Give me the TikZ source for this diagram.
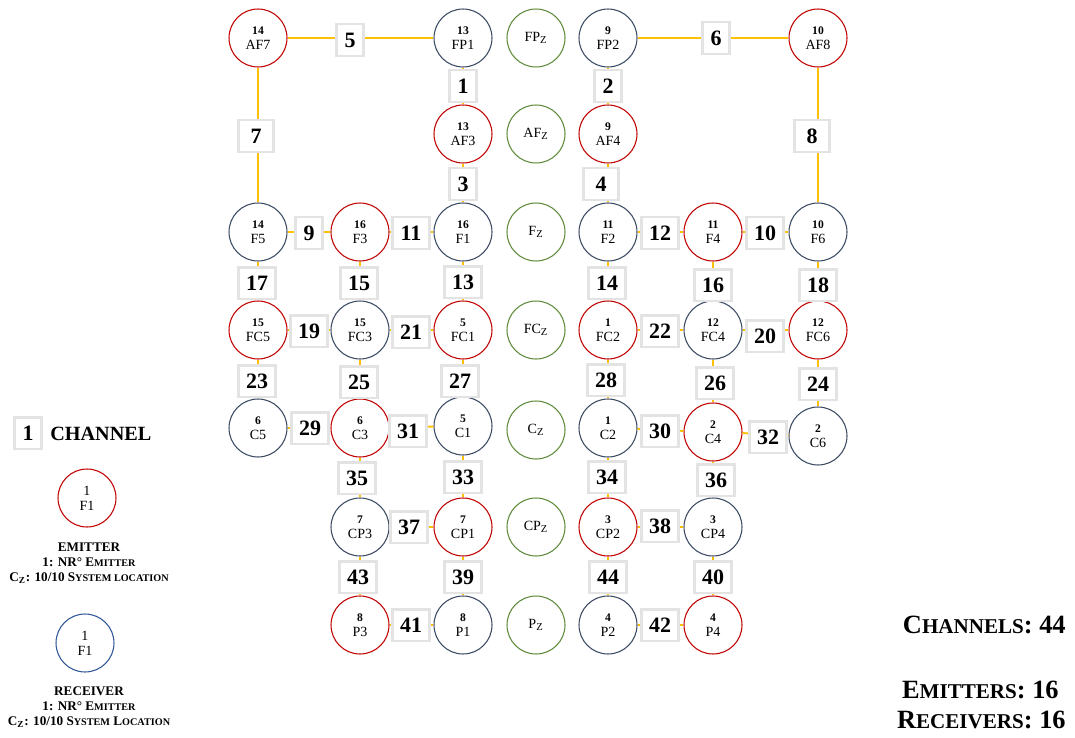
\documentclass[tikz,border=0pt]{standalone}
\usepackage{fontspec}
\setmainfont{Liberation Serif}
\usetikzlibrary{shapes}
\usepackage{xcolor}

\definecolor{emred}{HTML}{C00000}
\definecolor{recgray}{HTML}{3B4A63}
\definecolor{recblue}{HTML}{2F5597}
\definecolor{refgreen}{HTML}{5E8A3A}
\definecolor{chgray}{HTML}{E3E3E3}
\definecolor{linkor}{HTML}{FFC000}

\newcommand{\nr}[1]{{\fontsize{6.6}{7.5}\selectfont\bfseries #1}}
\newcommand{\sml}[1]{{\fontsize{5.8}{6}\selectfont #1}}
\newcommand{\smb}[1]{{\fontsize{12}{12}\selectfont #1}}

\begin{document}
\begin{tikzpicture}[x=0.02cm,y=-0.02cm]
                \tikzstyle{every node}=[inner sep=0pt]
                \tikzstyle{emit}=[circle,draw=emred,line width=0.6pt,minimum size=1.16cm,align=center,font=\fontsize{8}{8.5}\selectfont]
                \tikzstyle{recv}=[emit,draw=recgray]
                \tikzstyle{zref}=[emit,draw=refgreen]
                \tikzstyle{chan}=[rectangle,draw=chgray,fill=white,line width=1.7pt,minimum height=0.64cm,inner xsep=4.5pt,font=\fontsize{12.5}{12.5}\selectfont\bfseries]
                \tikzstyle{wchan}=[chan,minimum width=0.7cm]
                \tikzstyle{link}=[draw=linkor,line width=1.1pt]
                \tikzstyle{legtext}=[align=center,font=\fontsize{7.5}{8.6}\selectfont\bfseries]

                \useasboundingbox (0,0) rectangle (1075,737);

                % electrodes
                \node[emit] (AF7) at (258,38) {\nr{14}\\AF7};
                \node[recv] (FP1) at (463,38) {\nr{13}\\FP1};
                \node[zref] (FPz) at (536,38) {FP\textsubscript{Z}};
                \node[recv] (FP2) at (608,38) {\nr{9}\\FP2};
                \node[emit] (AF8) at (818,38) {\nr{10}\\AF8};

                \node[emit] (AF3) at (463,134) {\nr{13}\\AF3};
                \node[zref] (AFz) at (536,134) {AF\textsubscript{Z}};
                \node[emit] (AF4) at (608,134) {\nr{9}\\AF4};

                \node[recv] (F5) at (258,232) {\nr{14}\\F5};
                \node[emit] (F3) at (360,232) {\nr{16}\\F3};
                \node[recv] (F1) at (463,232) {\nr{16}\\F1};
                \node[zref] (Fz) at (536,232) {F\textsubscript{Z}};
                \node[recv] (F2) at (608,232) {\nr{11}\\F2};
                \node[emit] (F4) at (713,232) {\nr{11}\\F4};
                \node[recv] (F6) at (818,232) {\nr{10}\\F6};

                \node[emit] (FC5) at (258,330) {\nr{15}\\FC5};
                \node[recv] (FC3) at (360,330) {\nr{15}\\FC3};
                \node[emit] (FC1) at (463,330) {\nr{5}\\FC1};
                \node[zref] (FCz) at (536,330) {FC\textsubscript{Z}};
                \node[emit] (FC2) at (608,330) {\nr{1}\\FC2};
                \node[recv] (FC4) at (713,330) {\nr{12}\\FC4};
                \node[emit] (FC6) at (818,330) {\nr{12}\\FC6};

                \node[recv] (C5) at (258,428) {\nr{6}\\C5};
                \node[emit] (C3) at (360,428) {\nr{6}\\C3};
                \node[recv] (C1) at (463,426) {\nr{5}\\C1};
                \node[zref] (Cz) at (536,430) {C\textsubscript{Z}};
                \node[recv] (C2) at (608,428) {\nr{1}\\C2};
                \node[emit] (C4) at (713,432) {\nr{2}\\C4};
                \node[recv] (C6) at (818,436) {\nr{2}\\C6};

                \node[recv] (CP3) at (360,527) {\nr{7}\\CP3};
                \node[emit] (CP1) at (463,527) {\nr{7}\\CP1};
                \node[zref] (CPz) at (536,527) {CP\textsubscript{Z}};
                \node[emit] (CP2) at (608,527) {\nr{3}\\CP2};
                \node[recv] (CP4) at (713,527) {\nr{3}\\CP4};

                \node[emit] (P3) at (360,625) {\nr{8}\\P3};
                \node[recv] (P1) at (463,625) {\nr{8}\\P1};
                \node[zref] (Pz) at (536,625) {P\textsubscript{Z}};
                \node[recv] (P2) at (608,625) {\nr{4}\\P2};
                \node[emit] (P4) at (713,625) {\nr{4}\\P4};

                % links
                \draw[link] (FP1) -- (AF3);
                \draw[link] (FP2) -- (AF4);
                \draw[link] (AF3) -- (F1);
                \draw[link] (AF4) -- (F2);
                \draw[link] (AF7) -- (FP1);
                \draw[link] (FP2) -- (AF8);
                \draw[link] (AF7) -- (F5);
                \draw[link] (AF8) -- (F6);
                \draw[link] (F5) -- (F3);
                \draw[link] (F4) -- (F6);
                \draw[link] (F3) -- (F1);
                \draw[link] (F2) -- (F4);
                \draw[link] (F1) -- (FC1);
                \draw[link] (F2) -- (FC2);
                \draw[link] (F3) -- (FC3);
                \draw[link] (F4) -- (FC4);
                \draw[link] (F5) -- (FC5);
                \draw[link] (F6) -- (FC6);
                \draw[link] (FC5) -- (FC3);
                \draw[link] (FC4) -- (FC6);
                \draw[link] (FC3) -- (FC1);
                \draw[link] (FC2) -- (FC4);
                \draw[link] (FC5) -- (C5);
                \draw[link] (FC6) -- (C6);
                \draw[link] (FC3) -- (C3);
                \draw[link] (FC4) -- (C4);
                \draw[link] (FC1) -- (C1);
                \draw[link] (FC2) -- (C2);
                \draw[link] (C5) -- (C3);
                \draw[link] (C2) -- (C4);
                \draw[link] (C3) -- (C1);
                \draw[link] (C4) -- (C6);
                \draw[link] (C1) -- (CP1);
                \draw[link] (C2) -- (CP2);
                \draw[link] (C3) -- (CP3);
                \draw[link] (C4) -- (CP4);
                \draw[link] (CP3) -- (CP1);
                \draw[link] (CP2) -- (CP4);
                \draw[link] (CP1) -- (P1);
                \draw[link] (CP4) -- (P4);
                \draw[link] (P3) -- (P1);
                \draw[link] (P2) -- (P4);
                \draw[link] (CP3) -- (P3);
                \draw[link] (CP2) -- (P2);

                % channels
                \node[chan] (ch1) at (463,86) {1};
                \node[chan] (ch2) at (608,86) {2};
                \node[chan] (ch3) at (463,184) {3};
                \node[wchan] (ch4) at (601,184) {4};
                \node[chan] (ch5) at (350,40) {5};
                \node[chan] (ch6) at (716,38) {6};
                \node[wchan] (ch7) at (256,136) {7};
                \node[wchan] (ch8) at (812,136) {8};
                \node[chan] (ch9) at (309,233) {9};
                \node[chan] (ch10) at (765,233) {10};
                \node[chan] (ch11) at (411,233) {11};
                \node[chan] (ch12) at (660,233) {12};
                \node[chan] (ch13) at (463,282) {13};
                \node[chan] (ch14) at (607,283) {14};
                \node[chan] (ch15) at (359,283) {15};
                \node[chan] (ch16) at (713,285) {16};
                \node[chan] (ch17) at (257,283) {17};
                \node[chan] (ch18) at (818,285) {18};
                \node[chan] (ch19) at (309,331) {19};
                \node[chan] (ch20) at (765,336) {20};
                \node[chan] (ch21) at (411,332) {21};
                \node[chan] (ch22) at (660,331) {22};
                \node[chan] (ch23) at (257,381) {23};
                \node[chan] (ch24) at (818,384) {24};
                \node[chan] (ch25) at (359,382) {25};
                \node[chan] (ch26) at (715,383) {26};
                \node[chan] (ch27) at (460,381) {27};
                \node[chan] (ch28) at (606,380) {28};
                \node[chan] (ch29) at (310,428) {29};
                \node[chan] (ch30) at (660,431) {30};
                \node[chan] (ch31) at (408,431) {31};
                \node[chan] (ch32) at (768,437) {32};
                \node[chan] (ch33) at (463,477) {33};
                \node[chan] (ch34) at (607,477) {34};
                \node[chan] (ch35) at (357,478) {35};
                \node[chan] (ch36) at (716,480) {36};
                \node[chan] (ch37) at (409,527) {37};
                \node[chan] (ch38) at (660,526) {38};
                \node[chan] (ch39) at (463,577) {39};
                \node[chan] (ch40) at (713,577) {40};
                \node[chan] (ch41) at (411,625) {41};
                \node[chan] (ch42) at (660,625) {42};
                \node[chan] (ch43) at (358,577) {43};
                \node[chan] (ch44) at (608,577) {44};

                % legend
                \node[chan] (legch) at (28,433) {1};
                \node[anchor=west,font=\fontsize{11.5}{12}\selectfont\bfseries] (legchtxt) at (50,434) {CHANNEL};
                \node[emit] (legem) at (87,498) {1\\F1};
                \node[legtext] (legemtxt) at (89,563) {EMITTER\\1: NR° E\sml{MITTER}\\C\textsubscript{Z}: 10/10 S\sml{YSTEM LOCATION}};
                \node[emit,draw=recblue] (legrc) at (85,643) {1\\F1};
                \node[legtext] (legrctxt) at (89,707) {RECEIVER\\1: NR° E\sml{MITTER}\\C\textsubscript{Z}: 10/10 S\sml{YSTEM} L\sml{OCATION}};

                % totals
                \node[anchor=east,font=\fontsize{15}{15}\selectfont\bfseries] (totch) at (1066,625) {C\smb{HANNELS}: 44};
                \node[anchor=east,font=\fontsize{15}{15}\selectfont\bfseries] (totem) at (1059,690) {E\smb{MITTERS}: 16};
                \node[anchor=east,font=\fontsize{15}{15}\selectfont\bfseries] (totrc) at (1066,720) {R\smb{ECEIVERS}: 16};
            \end{tikzpicture}
\end{document}
